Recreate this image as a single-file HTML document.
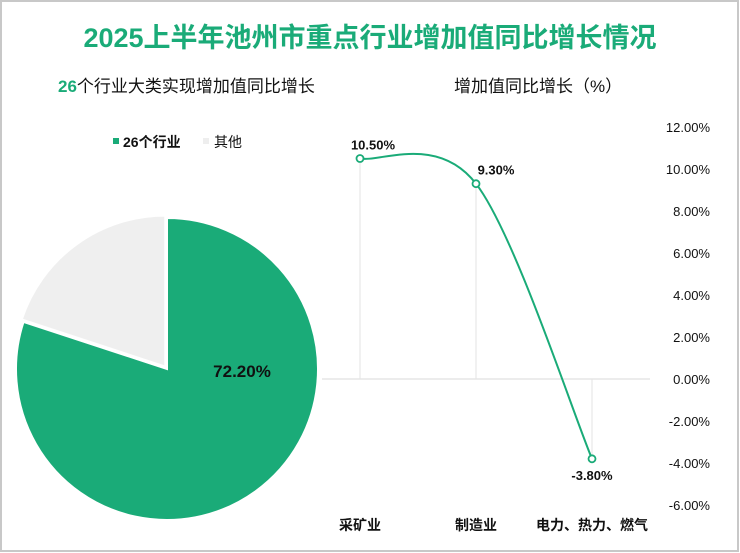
<!DOCTYPE html>
<html><head><meta charset="utf-8"><style>
body{margin:0;background:#fff;}
svg{display:block;font-family:"Liberation Sans","Noto Sans CJK SC",sans-serif;}
</style></head><body>
<svg width="740" height="553" viewBox="0 0 740 553">
<rect x="1" y="1" width="737" height="550" fill="#fff" stroke="#c8c8c8" stroke-width="2"/>
<text x="370" y="47" text-anchor="middle" font-size="27" font-weight="bold" fill="#1aab78">2025上半年池州市重点行业增加值同比增长情况</text>
<text x="58" y="92" font-size="17" fill="#111"><tspan fill="#1aab78" font-weight="bold">26</tspan>个行业大类实现增加值同比增长</text>
<text x="454" y="92" font-size="17" fill="#111">增加值同比增长（%）</text>
<rect x="113" y="138" width="6" height="6" fill="#1aab78"/>
<text x="123" y="147" font-size="14" font-weight="bold" fill="#111">26个行业</text>
<rect x="203" y="138" width="6" height="6" fill="#eeeeee"/>
<text x="214" y="147" font-size="14" fill="#111">其他</text>
<g id="pie"></g>
<g id="line"></g>
</svg>
<script>
const pieLabels=["26个行业","其他"];
const pieValues=[72.2,18];
const categories=["采矿业","制造业","电力、热力、燃气"];
const values=[10.5,9.3,-3.8];
const yTicks=[12,10,8,6,4,2,0,-2,-4,-6];
const NS="http://www.w3.org/2000/svg";
function mk(t,a,p){const e=document.createElementNS(NS,t);for(const k in a)e.setAttribute(k,a[k]);p.appendChild(e);return e;}
const pg=document.getElementById('pie');
const cx=167,cy=369,r=151;
const colors=["#1aab78","#efefef"];
const tot=pieValues.reduce((a,b)=>a+b,0);
let ang=0;
pieValues.forEach((v,i)=>{
 const a0=ang,a1=ang+v/tot*2*Math.PI;ang=a1;
 const off=i===1?3:0,mid=(a0+a1)/2;
 const ox=cx+off*Math.sin(mid),oy=cy-off*Math.cos(mid);
 const x0=ox+r*Math.sin(a0),y0=oy-r*Math.cos(a0),x1=ox+r*Math.sin(a1),y1=oy-r*Math.cos(a1);
 const p=mk('path',{d:`M${ox},${oy}L${x0},${y0}A${r},${r} 0 ${a1-a0>Math.PI?1:0} 1 ${x1},${y1}Z`,fill:colors[i],stroke:'#fff','stroke-width':2},pg);
 
 
});
const pl=mk('text',{x:242,y:377,'text-anchor':'middle','font-size':17,'font-weight':'bold',fill:'#111'},pg);
pl.textContent=pieValues[0].toFixed(2)+'%';


const lg=document.getElementById('line');
const yS=v=>379-v*21;
const xS=i=>360+i*116;
yTicks.forEach(t=>{const e=mk('text',{x:710,y:yS(t)+5,'text-anchor':'end','font-size':13,fill:'#111'},lg);e.textContent=t.toFixed(2)+'%';
 
 });
mk('line',{x1:322,x2:650,y1:yS(0),y2:yS(0),stroke:'#d9d9d9','stroke-width':1},lg);
values.forEach((v,i)=>{const d=mk('line',{x1:xS(i),x2:xS(i),y1:yS(v),y2:yS(0),stroke:'#e3e3e3','stroke-width':1},lg);
 
 });
const pts=values.map((v,i)=>[xS(i),yS(v)]);
let d=`M${pts[0][0]},${pts[0][1]}`;
for(let i=0;i<pts.length-1;i++){
 const p0=pts[Math.max(i-1,0)],p1=pts[i],p2=pts[i+1],p3=pts[Math.min(i+2,pts.length-1)];
 const c1=[p1[0]+(p2[0]-p0[0])/6,p1[1]+(p2[1]-p0[1])/6],c2=[p2[0]-(p3[0]-p1[0])/6,p2[1]-(p3[1]-p1[1])/6];
 d+=`C${c1[0]},${c1[1]} ${c2[0]},${c2[1]} ${p2[0]},${p2[1]}`;
}
const ln=mk('path',{d:d,fill:'none',stroke:'#1aab78','stroke-width':2},lg);


pts.forEach((p,i)=>{
 const c=mk('circle',{cx:p[0],cy:p[1],r:3.5,fill:'#fff',stroke:'#1aab78','stroke-width':1.8},lg);
 
 
 const below=values[i]<0;
 const t=mk('text',{x:p[0]+(i===1?20:(below?0:13)),y:below?p[1]+21:p[1]-9,'text-anchor':'middle','font-size':13,'font-weight':'bold',fill:'#111'},lg);
 t.textContent=values[i].toFixed(2)+'%';
 
 
 const cl=mk('text',{x:p[0],y:530,'text-anchor':'middle','font-size':14,'font-weight':'bold',fill:'#111'},lg);
 cl.textContent=categories[i];
 
 
});
</script>
</body></html>
